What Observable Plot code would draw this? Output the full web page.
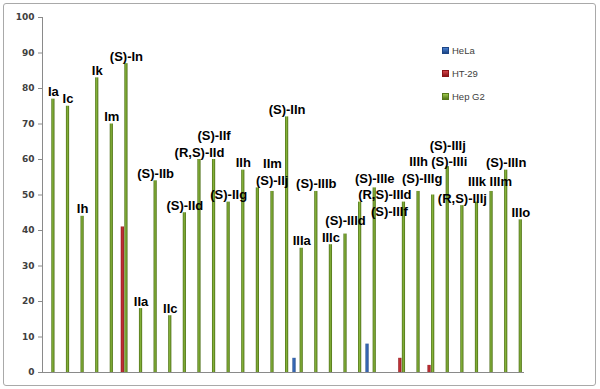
<!DOCTYPE html>
<html>
<head>
<meta charset="utf-8">
<script src="https://cdn.jsdelivr.net/npm/d3@7"></script>
<script src="https://cdn.jsdelivr.net/npm/@observablehq/plot@0.6"></script>
<style>
  html, body { margin: 0; padding: 0; background: #fff; }
  #wrap { position: relative; width: 600px; height: 389px; overflow: hidden; }
  #wrap svg { position: absolute; left: 0; top: 0; }
  #border { position: absolute; left: 3px; top: 3px; width: 591px; height: 381px;
            border: 1.5px solid #a9a9a9; border-radius: 3px; pointer-events: none; }
  #legend { position: absolute; left: 442px; top: 39px; font-family: "Liberation Sans", Arial, sans-serif;
            font-size: 9.5px; color: #404040; }
  #legend .item { height: 23px; line-height: 23px; display: flex; align-items: center; }
  #legend .sw { width: 7px; height: 7px; margin-right: 3px; box-sizing: border-box; }
</style>
</head>
<body>
<div id="wrap"></div>
<script>
// ---- data ----
const categories = ["Ia","Ic","Ih","Ik","Im","(S)-In","IIa","(S)-IIb","IIc","(S)-IId","(R,S)-IId",
  "(S)-IIf","(S)-IIg","IIh","(S)-IIj","IIm","(S)-IIn","IIIa","(S)-IIIb","IIIc","(S)-IIId",
  "(R,S)-IIId","(S)-IIIe","(S)-IIIf","(S)-IIIg","IIIh","(S)-IIIi","(S)-IIIj","(R,S)-IIIj",
  "IIIk","IIIm","(S)-IIIn","IIIo"];
const series = ["HeLa", "HT-29", "Hep G2"];
const hela  = [0,0,0,0,0,0,0,0,0,0,0,0,0,0,0,0,0,4,0,0,0,0,8,0,0,0,0,0,0,0,0,0,0];
const ht29  = [0,0,0,0,0,41,0,0,0,0,0,0,0,0,0,0,0,0,0,0,0,0,0,0,4,0,2,0,0,0,0,0,0];
const hepg2 = [77,75,44,83,70,87,18,54,16,45,60,60,48,57,52,51,72,35,51,36,39,48,52,null,48,51,50,58,47,48,51,57,43];
const yTicks = [0,10,20,30,40,50,60,70,80,90,100];

// ---- layout ----
const W = 600, H = 389, ML = 42, MR = 76, MT = 17, MB = 17;
const step = (W - ML - MR) / categories.length;
const barW = 3.2, pitch = 3.6;              // width of a bar, distance between bar centres
const insets = k => {                        // k = -1 (HeLa), 0 (HT-29), 1 (Hep G2)
  const left = step / 2 + k * pitch - barW / 2;
  return {insetLeft: left, insetRight: step - left - barW};
};
const colors = {"HeLa": "url(#gBlue)", "HT-29": "url(#gRed)", "Hep G2": "url(#gGreen)"};

// replicate the scales to lay out the labels without collisions
const xBand = d3.scaleBand().domain(categories).range([ML, W - MR]).padding(0);
const yLin = d3.scaleLinear().domain([0, 100]).range([H - MB, MT]);
const ctx = document.createElement("canvas").getContext("2d");
ctx.font = "bold 13px 'Liberation Sans'";
const ASC = 11, DESC = 3, GAP = 3, VGAP = 2;
const placed = [];
const hit = (cd, base) => placed.find(p =>
  p.x0 < cd.x1 + GAP && p.x1 > cd.x0 - GAP && p.top < base + DESC + VGAP && p.bottom > base - ASC - VGAP);
const labels = categories.map((c, i) => {
  const gx = xBand(c) + step / 2 + pitch;
  const w = ctx.measureText(c).width;
  const missing = hepg2[i] == null;
  // a missing bar takes the lower of its neighbours as label height
  const v = missing ? Math.min(hepg2[i - 1] ?? 0, hepg2[i + 1] ?? 0) : hepg2[i];
  const start = yLin(v) - DESC;
  const cands = [
    {anchor: "middle", x0: gx - w / 2, x1: gx + w / 2},
    {anchor: "end", x0: gx + 2 - w, x1: gx + 2},
    {anchor: "start", x0: gx - 2, x1: gx - 2 + w}
  ].map(cd => {
    let up = start, p;
    while ((p = hit(cd, up))) up = p.top - DESC - VGAP - 0.5;
    let base = up;
    if (missing) {                 // no bar of its own: the label may also go lower
      let down = start;
      while ((p = hit(cd, down)) && down < yLin(0) - DESC) down = p.bottom + ASC + VGAP + 0.5;
      if (!hit(cd, down) && down < yLin(0) - DESC && down - start < start - up) base = down;
    }
    return {...cd, base, cost: Math.abs(base - start)};
  });
  let best = cands[0];
  for (const cd of cands.slice(1)) if (cd.cost < best.cost - 6) best = cd;
  placed.push({x0: best.x0, x1: best.x1, top: best.base - ASC, bottom: best.base + DESC});
  return {cat: c, anchor: best.anchor, y: yLin.invert(best.base)};
});

const rows = k => categories.map((c, i) => ({cat: c, series: series[k], value: [hela, ht29, hepg2][k][i]}));
const labelMark = (anchor, dx) => Plot.text(labels.filter(d => d.anchor === anchor), {
  x: "cat", y: "y", text: "cat", textAnchor: anchor, lineAnchor: "bottom", dx,
  fontFamily: "'Liberation Sans', Arial, sans-serif", fontWeight: "bold", fontSize: 13, fill: "#000"
});

const svg = Plot.plot({
  width: W, height: H,
  marginLeft: ML, marginRight: MR, marginTop: MT, marginBottom: MB,
  x: {domain: categories, padding: 0, round: false, axis: null},
  y: {domain: [0, 100], axis: null},
  style: {background: "transparent", overflow: "visible"},
  marks: [
    Plot.axisY({ticks: yTicks, tickSize: 4, tickPadding: 4, label: null,
      fontFamily: "'DejaVu Sans', sans-serif", fontWeight: "bold", fontSize: 9,
      fill: "#404040", stroke: "#8a8a8a"}),
    Plot.ruleX([categories[0]], {y1: 0, y2: 100, dx: -step / 2, stroke: "#8a8a8a"}),
    Plot.barY(rows(0), {x: "cat", y: "value", fill: colors["HeLa"], ...insets(-1)}),
    Plot.barY(rows(1), {x: "cat", y: "value", fill: colors["HT-29"], ...insets(0)}),
    Plot.barY(rows(2).filter(d => d.value != null), {x: "cat", y: "value", fill: colors["Hep G2"], ...insets(1)}),
    Plot.ruleY([0], {stroke: "#8a8a8a"}),
    labelMark("middle", pitch),
    labelMark("end", pitch + 2),
    labelMark("start", pitch - 2)
  ]
});

// gradients for the bevelled Excel-style bars
const defs = d3.select(svg).insert("defs", ":first-child");
const grad = (id, edge, mid) => {
  const g = defs.append("linearGradient").attr("id", id).attr("x1", "0").attr("x2", "1").attr("y1", "0").attr("y2", "0");
  g.append("stop").attr("offset", "0%").attr("stop-color", edge);
  g.append("stop").attr("offset", "45%").attr("stop-color", mid);
  g.append("stop").attr("offset", "100%").attr("stop-color", edge);
};
grad("gGreen", "#4c6d16", "#86b43a");
grad("gRed", "#8a1418", "#c8343a");
grad("gBlue", "#1d4686", "#3f73c4");

const wrap = document.getElementById("wrap");
wrap.appendChild(svg);

// legend (inside the chart area, top right)
const legend = document.createElement("div");
legend.id = "legend";
const sw = {"HeLa": ["#1d4686", "#4a80d0"], "HT-29": ["#8a1418", "#d4444a"], "Hep G2": ["#56781a", "#9cc84a"]};
series.forEach(s => {
  const it = document.createElement("div");
  it.className = "item";
  const box = document.createElement("span");
  box.className = "sw";
  box.style.background = `linear-gradient(${sw[s][1]}, ${sw[s][0]})`;
  box.style.border = `1px solid ${sw[s][0]}`;
  const t = document.createElement("span");
  t.textContent = s;
  it.appendChild(box); it.appendChild(t);
  legend.appendChild(it);
});
wrap.appendChild(legend);

const border = document.createElement("div");
border.id = "border";
wrap.appendChild(border);
</script>
</body>
</html>
